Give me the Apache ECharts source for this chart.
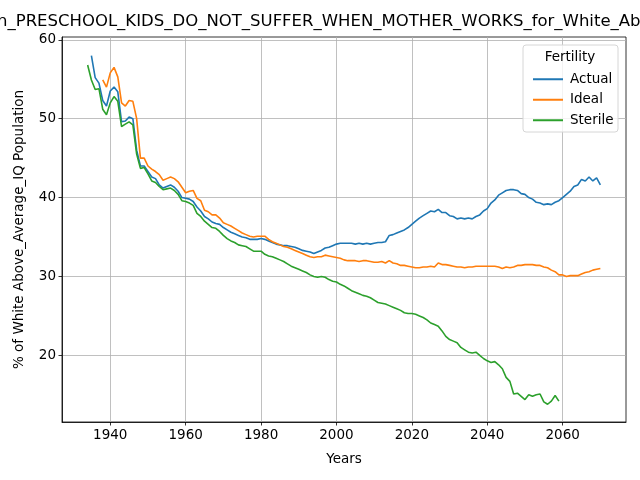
<!DOCTYPE html>
<html>
<head>
<meta charset="utf-8">
<script src="https://cdn.jsdelivr.net/npm/echarts@6.0.0/dist/echarts.min.js"></script>
<style>
  html, body { margin: 0; padding: 0; background: #fff; }
  #chart { width: 640px; height: 480px; }
</style>
</head>
<body>
<div id="chart"></div>
<script>
// values, one per year
const actualStart = 1935;
const actual = [
  58.0, 55.2, 54.5, 52.3, 51.6, 53.5, 54.0, 53.4, 49.6, 49.7,
  50.2, 50.0, 46.0, 44.0, 44.0, 43.3, 42.6, 42.4, 41.6, 41.2,
  41.4, 41.6, 41.3, 40.8, 40.0, 39.9, 39.8, 39.5, 38.8, 38.3,
  37.6, 37.3, 36.9, 36.7, 36.6, 36.2, 35.9, 35.6, 35.4, 35.2,
  35.0, 34.9, 34.7, 34.7, 34.7, 34.8, 34.7, 34.5, 34.3, 34.1,
  34.0, 33.9, 33.9, 33.8, 33.7, 33.5, 33.3, 33.2, 33.1, 32.9,
  33.1, 33.3, 33.6, 33.7, 33.9, 34.1, 34.2, 34.2, 34.2, 34.2,
  34.1, 34.2, 34.1, 34.2, 34.1, 34.2, 34.3, 34.3, 34.4, 35.2,
  35.3, 35.5, 35.7, 35.9, 36.2, 36.6, 37.0, 37.4, 37.7, 38.0,
  38.3, 38.2, 38.5, 38.1, 38.1, 37.7, 37.6, 37.3, 37.4, 37.3,
  37.4, 37.3, 37.6, 37.8, 38.3, 38.6, 39.3, 39.7, 40.3, 40.6,
  40.9, 41.0, 41.0, 40.9, 40.5, 40.4, 40.0, 39.8, 39.4, 39.3,
  39.1, 39.2, 39.1, 39.4, 39.6, 40.0, 40.4, 40.8, 41.4, 41.6,
  42.3, 42.1, 42.6, 42.1, 42.5, 41.6
];
const idealStart = 1938;
const ideal = [
  54.9, 54.0, 55.8, 56.5, 55.3, 52.0, 51.6, 52.3, 52.2, 50.0,
  45.0, 45.0, 44.0, 43.6, 43.3, 42.9, 42.2, 42.4, 42.6, 42.4,
  42.0, 41.3, 40.6, 40.8, 40.9, 39.9, 39.6, 38.4, 38.2, 37.8,
  37.8, 37.4, 36.8, 36.6, 36.4, 36.1, 35.8, 35.5, 35.3, 35.1,
  35.0, 35.1, 35.1, 35.1, 34.7, 34.4, 34.2, 34.0, 33.8, 33.7,
  33.5, 33.3, 33.1, 32.9, 32.7, 32.5, 32.4, 32.5, 32.5, 32.7,
  32.6, 32.5, 32.4, 32.3, 32.1, 32.0, 32.0, 32.0, 31.9, 32.0,
  32.0, 31.9, 31.8, 31.8, 31.9, 31.7, 32.0, 31.7, 31.6, 31.4,
  31.4, 31.3, 31.2, 31.1, 31.1, 31.2, 31.2, 31.3, 31.2, 31.7,
  31.5, 31.5, 31.4, 31.3, 31.2, 31.2, 31.1, 31.2, 31.2, 31.3,
  31.3, 31.3, 31.3, 31.3, 31.3, 31.2, 31.0, 31.2, 31.1, 31.2,
  31.4, 31.4, 31.5, 31.5, 31.5, 31.4, 31.4, 31.2, 31.1, 30.8,
  30.6, 30.2, 30.2, 30.0, 30.1, 30.1, 30.1, 30.3, 30.5, 30.6,
  30.8, 30.9, 31.0
];
const sterileStart = 1934;
const sterile = [
  56.8, 54.9, 53.7, 53.8, 51.2, 50.5, 52.0, 52.8, 52.2, 49.0,
  49.3, 49.6, 49.2, 45.5, 43.7, 43.8, 43.0, 42.1, 41.9, 41.4,
  41.0, 41.1, 41.2, 40.9, 40.4, 39.6, 39.5, 39.3, 39.0, 38.0,
  37.6, 37.0, 36.6, 36.2, 36.1, 35.7, 35.2, 34.8, 34.5, 34.3,
  34.0, 33.9, 33.8, 33.5, 33.2, 33.2, 33.2, 32.8, 32.6, 32.5,
  32.3, 32.1, 31.9, 31.6, 31.3, 31.1, 30.9, 30.7, 30.5, 30.2,
  30.0, 29.9, 30.0, 29.9, 29.6, 29.4, 29.3, 29.0, 28.8, 28.5,
  28.2, 28.0, 27.8, 27.6, 27.5, 27.3, 27.0, 26.7, 26.6, 26.5,
  26.3, 26.1, 25.9, 25.7, 25.4, 25.3, 25.3, 25.2, 25.0, 24.8,
  24.5, 24.1, 23.9, 23.7, 23.1, 22.4, 22.0, 21.8, 21.6, 21.0,
  20.7, 20.4, 20.3, 20.4, 20.0, 19.6, 19.3, 19.1, 19.2, 18.8,
  18.3, 17.2, 16.7, 15.1, 15.2, 14.8, 14.4, 15.0, 14.8, 15.0,
  15.1, 14.1, 13.8, 14.2, 14.9, 14.2
];
const xTicks = [1940, 1960, 1980, 2000, 2020, 2040, 2060];
const yTicks = [20, 30, 40, 50, 60];

const font = "DejaVu Sans";
const toPairs = (start, vals) => vals.map((v, i) => [start + i, v]);

const chart = echarts.init(document.getElementById("chart"), null, { renderer: "canvas" });

const lineSeries = (name, color, start, vals) => ({
  name: name,
  type: "line",
  data: toPairs(start, vals),
  showSymbol: false,
  symbol: "none",
  color: color,
  lineStyle: { width: 1.6, color: color },
  animation: false,
});

chart.setOption({
  animation: false,
  backgroundColor: "#fff",
  textStyle: { fontFamily: font },
  grid: {
    left: 62, right: 14, top: 37, bottom: 58, containLabel: false,
    show: true, borderColor: "#000", borderWidth: 0.8, backgroundColor: "transparent",
  },
  xAxis: {
    type: "value",
    min: 1927.2,
    max: 2076.8,
    name: "Years",
    nameLocation: "middle",
    nameGap: 30,
    nameTextStyle: { fontSize: 13.5, color: "#000", fontFamily: font },
    axisLine: { show: true, onZero: false, lineStyle: { color: "#000", width: 0.8 } },
    axisTick: { show: true, length: 3.5, customValues: xTicks, lineStyle: { color: "#000", width: 0.8 } },
    axisLabel: { customValues: xTicks, fontSize: 13.5, color: "#000", margin: 6, fontFamily: font, formatter: (v) => String(v) },
    splitLine: { show: true, lineStyle: { color: "#b0b0b0", width: 0.8 } },
  },
  yAxis: {
    type: "value",
    min: 11.55,
    max: 60.35,
    name: "% of White Above_Average_IQ Population",
    nameLocation: "middle",
    nameGap: 36,
    nameTextStyle: { fontSize: 13.5, color: "#000", fontFamily: font },
    axisLine: { show: true, onZero: false, lineStyle: { color: "#000", width: 0.8 } },
    axisTick: { show: true, length: 3.5, customValues: yTicks, lineStyle: { color: "#000", width: 0.8 } },
    axisLabel: { customValues: yTicks, fontSize: 13.5, color: "#000", margin: 6, fontFamily: font },
    splitLine: { show: true, lineStyle: { color: "#b0b0b0", width: 0.8 } },
  },
  legend: {
    orient: "vertical",
    left: 528,
    top: 67,
    z: 20,
    icon: "rect",
    itemWidth: 30,
    itemHeight: 2,
    itemGap: 6,
    textStyle: { fontSize: 13.5, color: "#000", fontFamily: font, lineHeight: 14.5, padding: [0, 0, 0, 2] },
    data: ["Actual", "Ideal", "Sterile"],
  },
  graphic: [
    {
      type: "rect",
      z: 5,
      shape: { x: 523, y: 45, width: 95, height: 87, r: 3 },
      style: { fill: "rgba(255,255,255,0.8)", stroke: "#d6d6d6", lineWidth: 1 },
    },
    {
      type: "text",
      z: 21,
      x: 570,
      y: 57,
      style: { text: "Fertility", fontSize: 13.5, fontFamily: font, fill: "#000", align: "center", verticalAlign: "middle" },
    },
    {
      type: "text",
      z: 21,
      x: -3,
      y: 22,
      style: {
        text: "n_PRESCHOOL_KIDS_DO_NOT_SUFFER_WHEN_MOTHER_WORKS_for_White_Above_Average_IQ_Population",
        fontSize: 16.5, fontFamily: font, fill: "#000", align: "left", verticalAlign: "middle",
      },
    },
  ],
  series: [
    lineSeries("Actual", "#1f77b4", actualStart, actual),
    lineSeries("Ideal", "#ff7f0e", idealStart, ideal),
    lineSeries("Sterile", "#2ca02c", sterileStart, sterile),
  ],
});
</script>
</body>
</html>
